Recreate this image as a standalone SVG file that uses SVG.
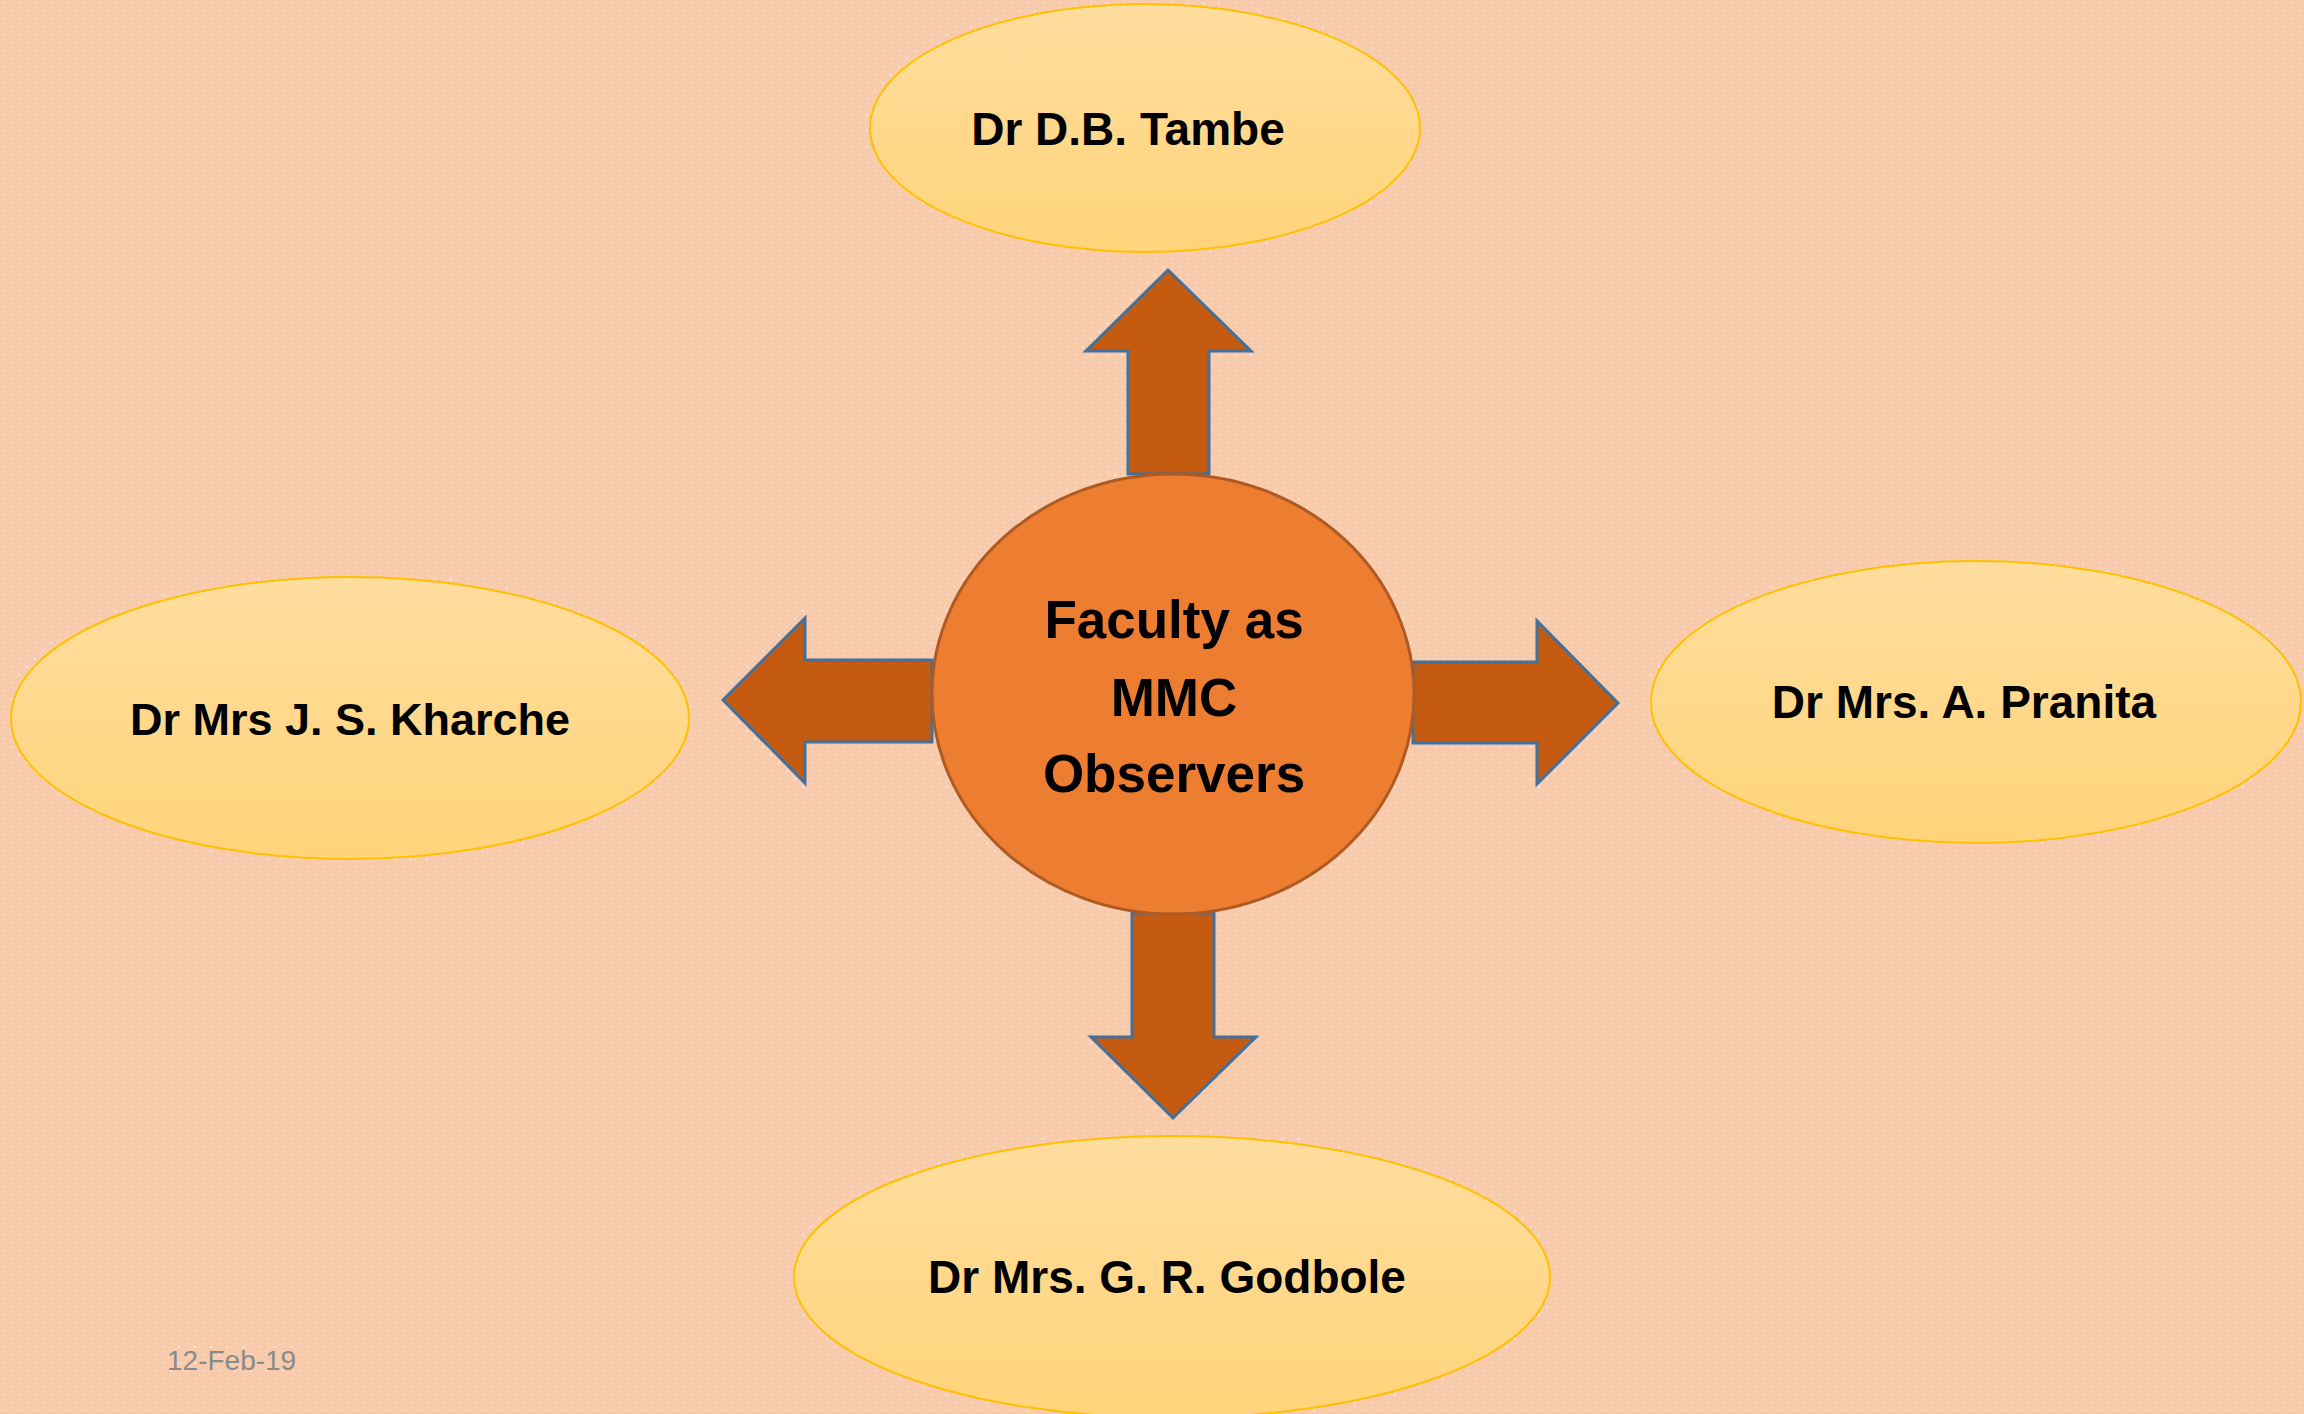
<svg xmlns="http://www.w3.org/2000/svg" width="2304" height="1414" viewBox="0 0 2304 1414">
  <defs>
    <pattern id="dots" x="0" y="0" width="16" height="16" patternUnits="userSpaceOnUse">
      <rect x="2" y="2" width="2" height="2" fill="#fbe3d3"/>
      <rect x="10" y="10" width="2" height="2" fill="#fbe3d3"/>
    </pattern>
    <linearGradient id="gold" x1="0" y1="0" x2="0" y2="1">
      <stop offset="0" stop-color="#ffdd9e"/>
      <stop offset="1" stop-color="#ffd47a"/>
    </linearGradient>
    <style>
      .leaf { fill: url(#gold); stroke: #ffc000; stroke-width: 2; }
      .hub { fill: #ed7d31; stroke: #ae5a21; stroke-width: 3; }
      .arrow { fill: #c55a11; stroke: #41719c; stroke-width: 3; stroke-linejoin: miter; }
      .lbl { font-family: "Liberation Sans", Arial, sans-serif; font-weight: bold; fill: #000; text-anchor: middle; }
      .date { font-family: "Liberation Sans", Arial, sans-serif; font-size: 28px; fill: #8a8a8a; }
    </style>
  </defs>
  <rect width="2304" height="1414" fill="#f8cbad"/>
  <rect width="2304" height="1414" fill="url(#dots)"/>

  <g id="connectors">
    <polygon class="arrow" points="1168,270 1251,351 1209,351 1209,474 1128,474 1128,351 1086,351"/>
    <polygon class="arrow" points="723,700 805,618 805,660 932,660 932,742 805,742 805,783"/>
    <polygon class="arrow" points="1618,703 1537,621 1537,662 1413,662 1413,743 1537,743 1537,784"/>
    <polygon class="arrow" points="1173,1118 1256,1037 1214,1037 1214,913 1132,913 1132,1037 1091,1037"/>
  </g>

  <g id="hub">
    <ellipse class="hub" cx="1173" cy="694" rx="241" ry="220"/>
    <text class="lbl" font-size="53" x="1174" y="638">Faculty as</text>
    <text class="lbl" font-size="53" x="1174" y="716">MMC</text>
    <text class="lbl" font-size="53" x="1174" y="792">Observers</text>
  </g>

  <g id="node-tambe">
    <ellipse class="leaf" cx="1145" cy="128" rx="275" ry="124"/>
    <text class="lbl" font-size="46" x="1128" y="145">Dr D.B. Tambe</text>
  </g>

  <g id="node-kharche">
    <ellipse class="leaf" cx="350" cy="718" rx="339" ry="141"/>
    <text class="lbl" font-size="45" x="350" y="735">Dr Mrs J. S. Kharche</text>
  </g>

  <g id="node-pranita">
    <ellipse class="leaf" cx="1976" cy="702" rx="325" ry="141"/>
    <text class="lbl" font-size="46" x="1964" y="718">Dr Mrs. A. Pranita</text>
  </g>

  <g id="node-godbole">
    <ellipse class="leaf" cx="1172" cy="1277" rx="378" ry="141"/>
    <text class="lbl" font-size="46" x="1167" y="1293">Dr Mrs. G. R. Godbole</text>
  </g>

  <text class="date" x="167" y="1370">12-Feb-19</text>
</svg>
